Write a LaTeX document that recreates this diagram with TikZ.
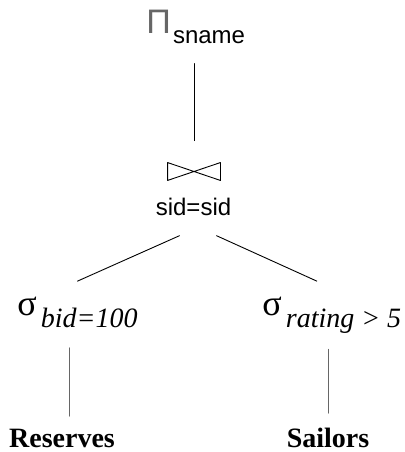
\documentclass[tikz,border=0pt]{standalone}
\usepackage{fontspec}
\setmainfont{Liberation Serif}
\setsansfont{Liberation Sans}
\newcommand{\opsize}[1]{\fontsize{#1}{#1}\selectfont}

\begin{document}
\begin{tikzpicture}[x=1pt,y=-1pt,line width=0.9pt,line join=round,line cap=round,every node/.style={inner sep=0pt}]
			\useasboundingbox (0,0) rectangle (404,452);
			\node[anchor=base west] (proj) at (146,34) {\sffamily{\opsize{34}\color{black!60}Π}\hspace{2pt}\raisebox{-10pt}{\opsize{24}sname}};
			\node[minimum width=52pt,minimum height=17pt] (bowtie) at (194,171.5) {};
			\draw (bowtie.north west) -- (bowtie.south east) -- (bowtie.north east) -- (bowtie.south west) -- cycle;
			\node[anchor=base,font=\sffamily] (join) at (193.5,215) {\opsize{24}sid=sid};
			\node[anchor=base west] (selR) at (17,327) {\raisebox{12pt}{\opsize{36}σ}\hspace{4pt}{\opsize{28}\itshape bid=100}};
			\node[anchor=base west] (selS) at (262,327) {\raisebox{12pt}{\opsize{36}σ}\hspace{4pt}{\opsize{28}\itshape rating > 5}};
			\node[anchor=base,font=\bfseries] (reserves) at (62,447) {\opsize{28}Reserves};
			\node[anchor=base,font=\bfseries] (sailors) at (328,447) {\opsize{28}Sailors};
			\draw[shorten <=19pt,shorten >=22pt] (proj.south -| bowtie) -- (bowtie.north);
			\draw ([xshift=-14pt,yshift=-20pt]join.south) -- ([yshift=15pt]selR.north);
			\draw ([xshift=23pt,yshift=-20pt]join.south) -- ([xshift=-15pt,yshift=15pt]selS.north);
			\draw[black!60,shorten <=20pt,shorten >=12pt] ([xshift=7pt]reserves.north |- selR.south) -- ([xshift=7pt]reserves.north);
			\draw[black!60,shorten <=16pt,shorten >=14pt] (sailors.north |- selS.south) -- (sailors.north);
		\end{tikzpicture}
\end{document}
